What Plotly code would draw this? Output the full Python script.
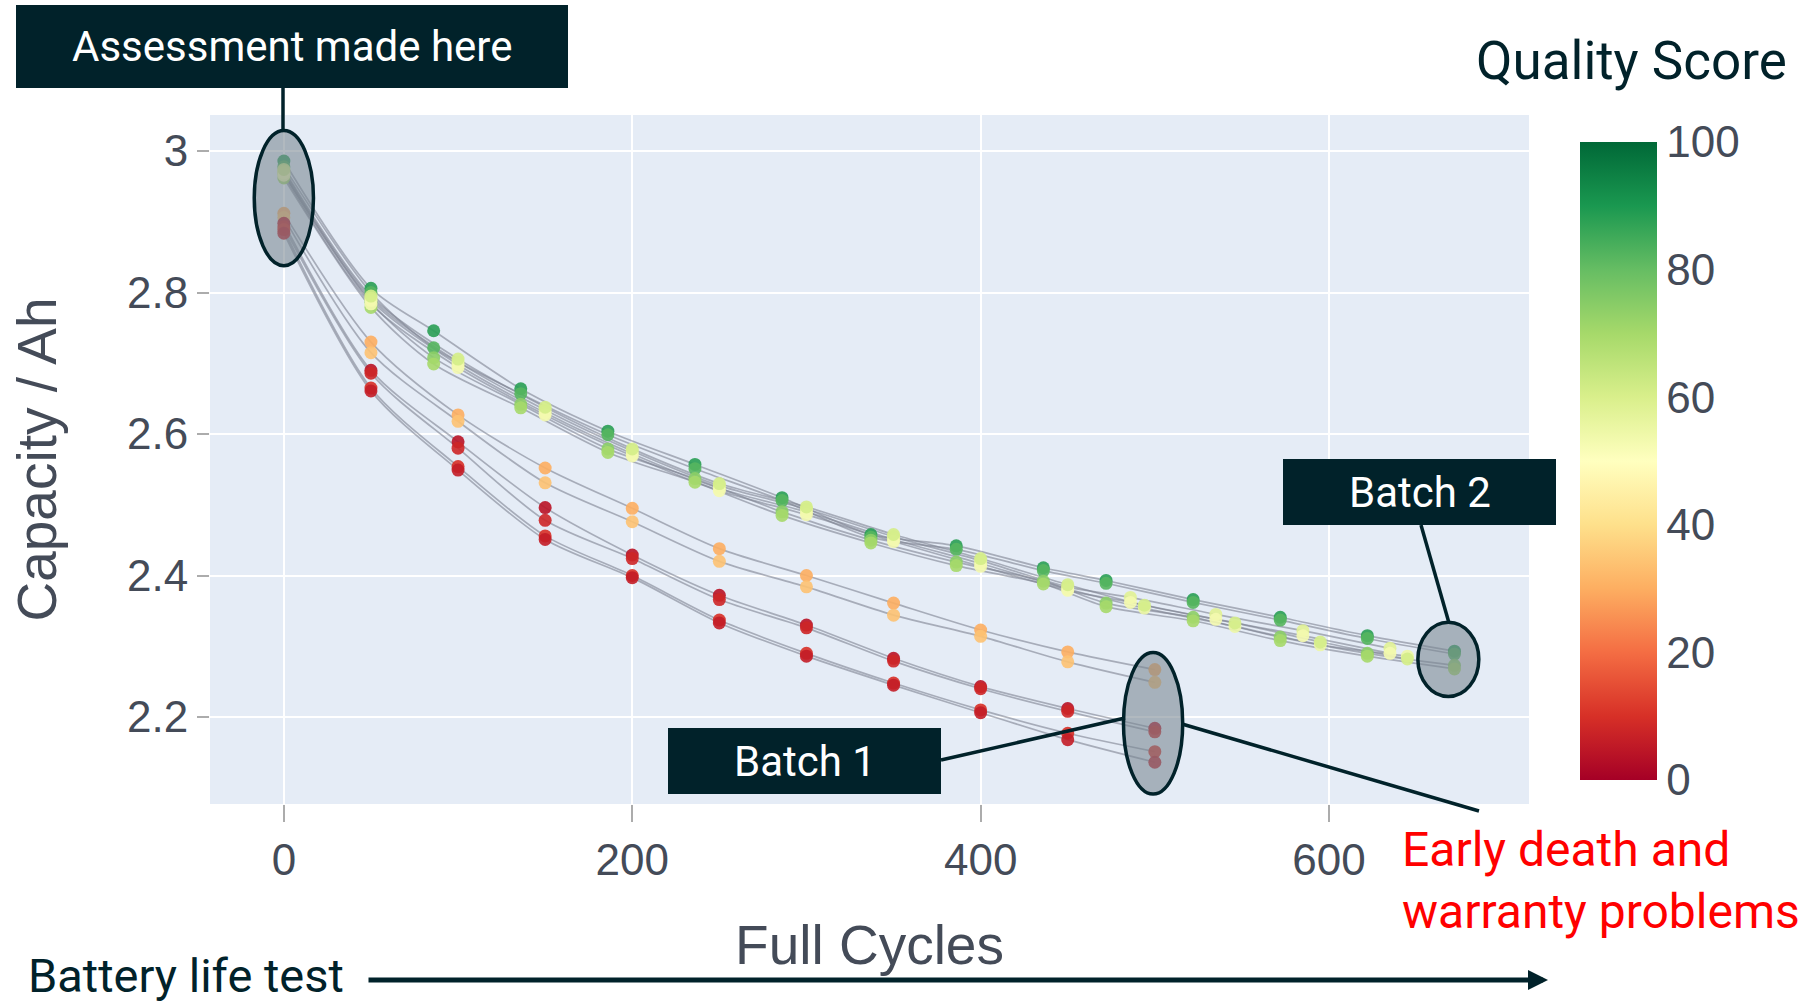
import plotly.graph_objects as go

# ---------------- data ----------------
# Batch 2 (good cells) - three measurement schedules
cycles_a = [0, 50, 86, 136, 186, 236, 286, 337, 386, 436, 472, 522, 572, 622, 672]
cycles_b = [0, 50, 100, 150, 200, 250, 300, 350, 400, 450, 486, 535, 585, 635]
cycles_c = [0, 50, 100, 150, 200, 250, 300, 350, 400, 450, 494, 546, 595, 645]
# Batch 1 (bad cells)
cycles_d = [0, 50, 100, 150, 200, 250, 300, 350, 400, 450, 500]

cap_g1 = [2.986, 2.806, 2.746, 2.664, 2.604, 2.557, 2.510, 2.458, 2.442, 2.411, 2.393, 2.366, 2.341, 2.315, 2.293]
cap_g2 = [2.978, 2.800, 2.722, 2.657, 2.599, 2.551, 2.506, 2.454, 2.437, 2.407, 2.389, 2.362, 2.337, 2.311, 2.289]
cap_g3 = [2.968, 2.786, 2.708, 2.642, 2.579, 2.537, 2.490, 2.450, 2.419, 2.392, 2.361, 2.341, 2.313, 2.290, 2.273]
cap_g4 = [2.962, 2.779, 2.699, 2.637, 2.574, 2.532, 2.485, 2.446, 2.414, 2.388, 2.356, 2.336, 2.308, 2.286, 2.268]
cap_y1 = [2.972, 2.792, 2.702, 2.634, 2.576, 2.527, 2.494, 2.455, 2.421, 2.384, 2.369, 2.345, 2.322, 2.297]
cap_y3 = [2.966, 2.784, 2.694, 2.627, 2.569, 2.520, 2.486, 2.448, 2.413, 2.379, 2.362, 2.338, 2.315, 2.290]
cap_y2 = [2.969, 2.789, 2.698, 2.630, 2.572, 2.523, 2.490, 2.451, 2.417, 2.381, 2.354, 2.328, 2.302, 2.286]
cap_y4 = [2.974, 2.795, 2.706, 2.638, 2.579, 2.530, 2.497, 2.458, 2.424, 2.387, 2.358, 2.333, 2.306, 2.282]

cap_o1 = [2.912, 2.730, 2.627, 2.552, 2.495, 2.438, 2.400, 2.361, 2.323, 2.292, 2.267]
cap_o2 = [2.906, 2.715, 2.618, 2.531, 2.476, 2.420, 2.384, 2.344, 2.314, 2.278, 2.249]
cap_r1 = [2.898, 2.690, 2.589, 2.496, 2.429, 2.372, 2.330, 2.283, 2.243, 2.212, 2.184]
cap_r2 = [2.893, 2.686, 2.580, 2.478, 2.424, 2.366, 2.326, 2.279, 2.240, 2.208, 2.179]
cap_r3 = [2.889, 2.665, 2.554, 2.456, 2.400, 2.337, 2.290, 2.248, 2.210, 2.177, 2.151]
cap_r4 = [2.884, 2.661, 2.549, 2.451, 2.397, 2.333, 2.286, 2.245, 2.206, 2.168, 2.136]

cell_names = ["G1", "G2", "G3", "G4", "Y1", "Y2", "Y3", "Y4", "O1", "O2", "R1", "R2", "R3", "R4"]
cell_cycles = [cycles_a, cycles_a, cycles_a, cycles_a, cycles_b, cycles_c, cycles_b, cycles_c,
               cycles_d, cycles_d, cycles_d, cycles_d, cycles_d, cycles_d]
cell_caps = [cap_g1, cap_g2, cap_g3, cap_g4, cap_y1, cap_y2, cap_y3, cap_y4,
             cap_o1, cap_o2, cap_r1, cap_r2, cap_r3, cap_r4]
quality_scores = [88, 82, 74, 70, 58, 55, 53, 61, 30, 34, 4, 8, 10, 6]

x_ticks = [0, 200, 400, 600]
y_ticks = [2.2, 2.4, 2.6, 2.8, 3.0]
cb_ticks = [0, 20, 40, 60, 80, 100]

# ---------------- figure ----------------
DARK = "#01222a"
AXIS_TXT = "#444b58"
W, H = 1809, 1004
L, R, T, B = 210, 1529, 115, 804


def px(xp):
    return (xp - L) / (R - L)


def py(yp):
    return (B - yp) / (B - T)


fig = go.Figure()

for name, xs, ys in zip(cell_names, cell_cycles, cell_caps):
    fig.add_trace(go.Scatter(
        x=xs, y=ys, mode="lines", name=name, showlegend=False, hoverinfo="skip",
        line=dict(color="rgba(125,130,145,0.6)", width=1.7, shape="spline", smoothing=0.8),
    ))

for i, (name, xs, ys, q) in enumerate(zip(cell_names, cell_cycles, cell_caps, quality_scores)):
    fig.add_trace(go.Scatter(
        x=xs, y=ys, mode="markers", name=name, showlegend=False,
        marker=dict(
            size=13, color=[q] * len(xs), colorscale="RdYlGn", cmin=0, cmax=100,
            opacity=0.9, line=dict(width=0),
            showscale=(i == 0),
            colorbar=dict(
                x=px(1580), xanchor="left", xpad=0,
                y=py(461), yanchor="middle", ypad=0,
                len=638, lenmode="pixels", thickness=77, thicknessmode="pixels",
                outlinewidth=0, tickvals=cb_ticks, ticks="",
                tickfont=dict(family="Liberation Sans", size=44, color=AXIS_TXT),
            ),
        ),
    ))

axis_font = dict(family="Liberation Sans", size=44, color=AXIS_TXT)
title_font = dict(family="Liberation Sans", size=55, color=AXIS_TXT)

fig.update_layout(
    width=W, height=H,
    margin=dict(l=L, r=W - R, t=T, b=H - B, autoexpand=False),
    paper_bgcolor="white", plot_bgcolor="#E5ECF6",
    showlegend=False,
    xaxis=dict(range=[-42.4, 714.8], tickvals=x_ticks, showgrid=True, gridcolor="white", gridwidth=2,
               zeroline=False, ticks="outside", ticklen=17, tickwidth=2, tickcolor="rgba(90,90,90,0.5)",
               tickfont=axis_font, title=dict(text="Full Cycles", font=title_font, standoff=42)),
    yaxis=dict(range=[2.077, 3.051], tickvals=y_ticks, showgrid=True, gridcolor="white", gridwidth=2,
               zeroline=False, ticks="outside", ticklen=12, tickwidth=2, tickcolor="rgba(90,90,90,0.5)",
               tickfont=axis_font, title=dict(text="Capacity / Ah", font=title_font, standoff=52)),
)

# ---------------- highlight ellipses (data coordinates) ----------------
ell_style = dict(type="circle", xref="x", yref="y", layer="above",
                 fillcolor="rgba(120,135,145,0.58)", line=dict(color=DARK, width=3.5))
fig.add_shape(x0=-17, x1=17, y0=2.838, y1=3.029, **ell_style)
fig.add_shape(x0=482, x1=516, y0=2.091, y1=2.291, **ell_style)
fig.add_shape(x0=651, x1=686, y0=2.229, y1=2.334, **ell_style)

# ---------------- callout connectors ----------------
def pline(x0, y0, x1, y1, width=3.5):
    fig.add_shape(type="line", xref="paper", yref="paper", layer="above",
                  x0=px(x0), y0=py(y0), x1=px(x1), y1=py(y1),
                  line=dict(color=DARK, width=width))

pline(283, 88, 283, 131)
pline(1421, 525, 1449, 623)
pline(941, 760, 1125, 718)
pline(1182, 724, 1479, 811)

# ---------------- callout boxes ----------------
def box(x0, y0, x1, y1, text):
    fig.add_shape(type="rect", xref="paper", yref="paper", layer="above",
                  x0=px(x0), y0=py(y0), x1=px(x1), y1=py(y1),
                  fillcolor=DARK, line=dict(width=0))
    fig.add_annotation(xref="paper", yref="paper", x=px((x0 + x1) / 2), y=py((y0 + y1) / 2),
                       text=text, showarrow=False, xanchor="center", yanchor="middle",
                       font=dict(family="Roboto", size=42, color="white"))

box(16, 5, 568, 88, "Assessment made here")
box(1283, 459, 1556, 525, "Batch 2")
box(668, 728, 941, 794, "Batch 1")

# ---------------- free text ----------------
fig.add_annotation(xref="paper", yref="paper", x=px(1474), y=py(61), xanchor="left", yanchor="middle",
                   text="Quality Score", showarrow=False,
                   font=dict(family="Roboto", size=53, color=DARK))
fig.add_annotation(xref="paper", yref="paper", x=px(1400), y=py(880), xanchor="left", yanchor="middle",
                   text="Early death and<br>warranty problems", showarrow=False, align="left",
                   font=dict(family="Roboto", size=48, color="#ff0000"))
fig.add_annotation(xref="paper", yref="paper", x=px(26), y=py(975), xanchor="left", yanchor="middle",
                   text="Battery life test", showarrow=False,
                   font=dict(family="Roboto", size=47, color=DARK))
fig.add_annotation(xref="paper", yref="paper", x=px(1548), y=py(980), ax=367 - 1548, ay=0,
                   axref="pixel", ayref="pixel", text="", showarrow=True,
                   arrowhead=2, arrowsize=0.8, arrowwidth=5, arrowcolor=DARK)

fig.write_html("out.html", config={"displayModeBar": False},
               post_script="document.body.style.margin='0';")
